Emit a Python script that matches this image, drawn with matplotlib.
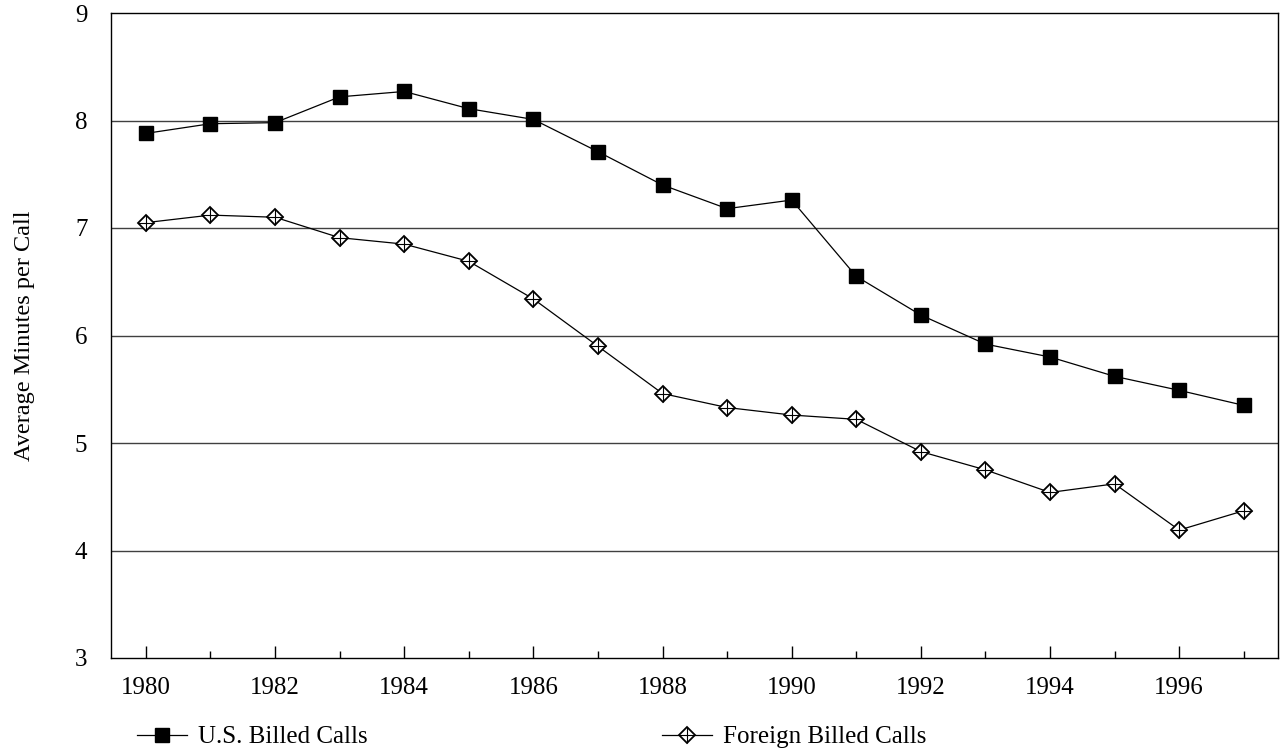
import numpy as np
import matplotlib
matplotlib.use("Agg")
import matplotlib.pyplot as plt
from matplotlib.lines import Line2D

plt.rcParams['font.family'] = ['Liberation Serif', 'DejaVu Serif']

years = np.arange(1980, 1998)
us_billed = [7.88, 7.97, 7.98, 8.22, 8.27, 8.11, 8.01, 7.71, 7.40, 7.18,
             7.26, 6.55, 6.19, 5.92, 5.80, 5.62, 5.49, 5.35]
foreign_billed = [7.05, 7.12, 7.10, 6.91, 6.85, 6.69, 6.34, 5.90, 5.46, 5.33,
                  5.26, 5.22, 4.92, 4.75, 4.54, 4.62, 4.19, 4.37]
year_labels = [str(y) if y % 2 == 0 else '' for y in years]

fig = plt.figure(figsize=(12.82, 7.5), dpi=100)
ax = fig.add_axes([111 / 1282, 1 - 658 / 750, (1278 - 111) / 1282, (658 - 13) / 750])

# horizontal grid lines (no line at 3 or 9, the frame does that)
for yv in [4, 5, 6, 7, 8]:
    ax.axhline(yv, color='#404040', lw=1.0, zorder=1)

ax.plot(years, us_billed, color='black', lw=0.9, marker='s', markersize=9.5,
        markerfacecolor='black', markeredgecolor='black', zorder=3)
ax.plot(years, foreign_billed, color='black', lw=0.9, marker='D', markersize=8.5,
        markerfacecolor='white', markeredgecolor='black', markeredgewidth=1.3, zorder=3)
ax.plot(years, foreign_billed, linestyle='none', marker='+', markersize=11.5,
        markeredgecolor='black', markeredgewidth=0.8, zorder=4)

ax.set_xlim(1979.46, 1997.53)
ax.set_ylim(3, 9)
ax.set_xticks(years)
ax.set_xticklabels(year_labels, fontsize=18)
ax.set_yticks(range(3, 10))
ax.set_yticklabels([str(v) for v in range(3, 10)], fontsize=18)
ax.tick_params(axis='y', length=0, pad=17)
ax.tick_params(axis='x', direction='in', length=5, width=1, pad=14)
for tk, y in zip(ax.xaxis.get_major_ticks(), years):
    if y % 2 == 0:
        tk.tick1line.set_markersize(9)

for s in ax.spines.values():
    s.set_linewidth(1.0)
    s.set_color('black')

ax.set_ylabel('Average Minutes per Call', fontsize=17.5, labelpad=29)

h1 = Line2D([], [], color='black', lw=0.9, marker='s', markersize=9.5)
h2a = Line2D([], [], color='black', lw=0.9, marker='D', markersize=8.5,
             markerfacecolor='white', markeredgewidth=1.3)
h2b = Line2D([], [], linestyle='none', marker='+', markersize=11.5,
             markeredgecolor='black', markeredgewidth=0.8)
fig.legend(handles=[h1], labels=['U.S. Billed Calls'], loc='center left',
           bbox_to_anchor=(137 / 1282, 1 - 737 / 750), frameon=False, fontsize=18,
           handlelength=2.0, handletextpad=0.45, borderpad=0, borderaxespad=0)
fig.legend(handles=[(h2a, h2b)], labels=['Foreign Billed Calls'], loc='center left',
           bbox_to_anchor=(662 / 1282, 1 - 737 / 750), frameon=False, fontsize=18,
           handlelength=2.0, handletextpad=0.45, borderpad=0, borderaxespad=0)

fig.savefig('out.png', dpi=100)
